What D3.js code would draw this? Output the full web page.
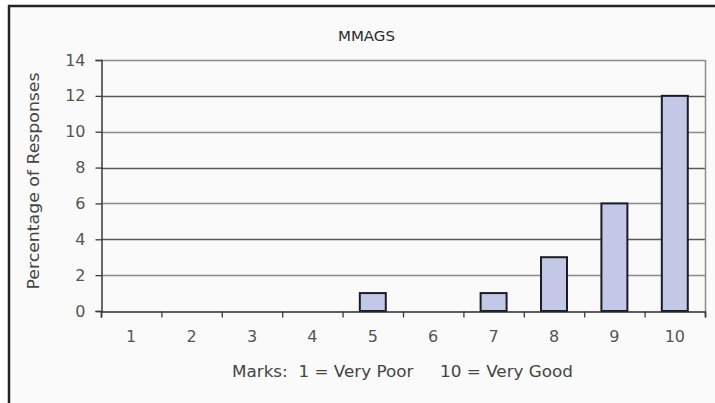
<!DOCTYPE html>
<html>
<head>
<meta charset="utf-8">
<script src="https://cdn.jsdelivr.net/npm/d3@7"></script>
<style>
html,body{margin:0;padding:0;background:#fff;}
svg{display:block;}
text{font-family:"DejaVu Sans",Verdana,sans-serif;}
</style>
</head>
<body>
<svg id="chart" width="715" height="403"></svg>
<script>
const categories = ["1","2","3","4","5","6","7","8","9","10"];
const values = [0,0,0,0,1,0,1,3,6,12];
const yTicks = [0,2,4,6,8,10,12,14];
const title = "MMAGS";
const xTitle = "Marks:  1 = Very Poor     10 = Very Good";
const yTitle = "Percentage of Responses";

const svg = d3.select("#chart");
const W = 715, H = 403;
const plot = {left:101, right:705, top:60, bottom:311};

// outer frame
svg.append("rect").attr("x",9).attr("y",6).attr("width",W+20).attr("height",H+20)
  .attr("fill","#fafafa").attr("stroke","#232323").attr("stroke-width",2.5);

const y = d3.scaleLinear().domain([0,14]).range([plot.bottom, plot.top]);
const x = d3.scaleBand().domain(categories).range([plot.left, plot.right])
  .paddingInner(0.57).paddingOuter(0.285);
const xb = d3.scaleLinear().domain([0,categories.length]).range([plot.left, plot.right]);

// gridlines
svg.append("g").selectAll("line").data(yTicks.filter(d=>d>0)).join("line")
  .attr("x1",plot.left).attr("x2",plot.right)
  .attr("y1",d=>Math.round(y(d))+0.5).attr("y2",d=>Math.round(y(d))+0.5)
  .attr("stroke",d=> (d%4===0) ? "#5a5a5a" : "#8c8c8c").attr("stroke-width",1.6);

// right border of plot
svg.append("line").attr("x1",plot.right+0.5).attr("x2",plot.right+0.5)
  .attr("y1",plot.top).attr("y2",plot.bottom).attr("stroke","#8a8a8a").attr("stroke-width",1.5);

// bars
const barData = values.map((v,i)=>({c:categories[i],v})).filter(d=>d.v>0);
svg.append("g").selectAll("rect").data(barData)
  .join("rect")
  .attr("x",d=>x(d.c)).attr("width",x.bandwidth())
  .attr("y",d=>y(d.v)).attr("height",d=>y(0)-y(d.v))
  .attr("fill","#c2c8e5").attr("stroke","#1c1c28").attr("stroke-width",2);

// y axis
const yAxis = d3.axisLeft(y).tickValues(yTicks).tickSize(6).tickPadding(10).tickFormat(d3.format("d"));
const gy = svg.append("g").attr("transform",`translate(${plot.left+0.5},0)`).call(yAxis);
gy.select(".domain").attr("stroke","#3a3a3a").attr("stroke-width",1.5);
gy.selectAll(".tick line").attr("stroke","#3a3a3a").attr("stroke-width",1.3);
gy.selectAll(".tick text").attr("fill","#555").attr("font-size",16).attr("font-family","DejaVu Sans");

// x axis (boundary ticks)
const xAxisB = d3.axisBottom(xb).tickValues(d3.range(0,categories.length+1)).tickSize(6).tickFormat("");
const gxb = svg.append("g").attr("transform",`translate(0,${plot.bottom+0.5})`).call(xAxisB);
gxb.select(".domain").attr("stroke","#2a2a2a").attr("stroke-width",1.6);
gxb.selectAll(".tick line").attr("stroke","#3a3a3a").attr("stroke-width",1.3);

// x category labels
const xAxis = d3.axisBottom(x).tickSize(0).tickPadding(20);
const gx = svg.append("g").attr("transform",`translate(0,${plot.bottom})`).call(xAxis);
gx.select(".domain").remove();
gx.selectAll(".tick text").attr("fill","#555").attr("font-size",16).attr("font-family","DejaVu Sans");

// title
svg.append("text").attr("x",366.5).attr("y",41).attr("text-anchor","middle")
  .attr("font-size",14).attr("fill","#2a2a2a").attr("textLength",57).attr("lengthAdjust","spacingAndGlyphs")
  .text(title);

// x title
svg.append("text").attr("x",402.5).attr("y",377).attr("text-anchor","middle")
  .attr("font-size",16).attr("fill","#444").attr("textLength",341).attr("lengthAdjust","spacingAndGlyphs")
  .attr("xml:space","preserve")
  .text(xTitle);

// y title
svg.append("text").attr("transform","translate(39,181) rotate(-90)").attr("text-anchor","middle")
  .attr("font-size",15).attr("fill","#444").attr("textLength",217).attr("lengthAdjust","spacingAndGlyphs")
  .text(yTitle);
</script>
</body>
</html>
